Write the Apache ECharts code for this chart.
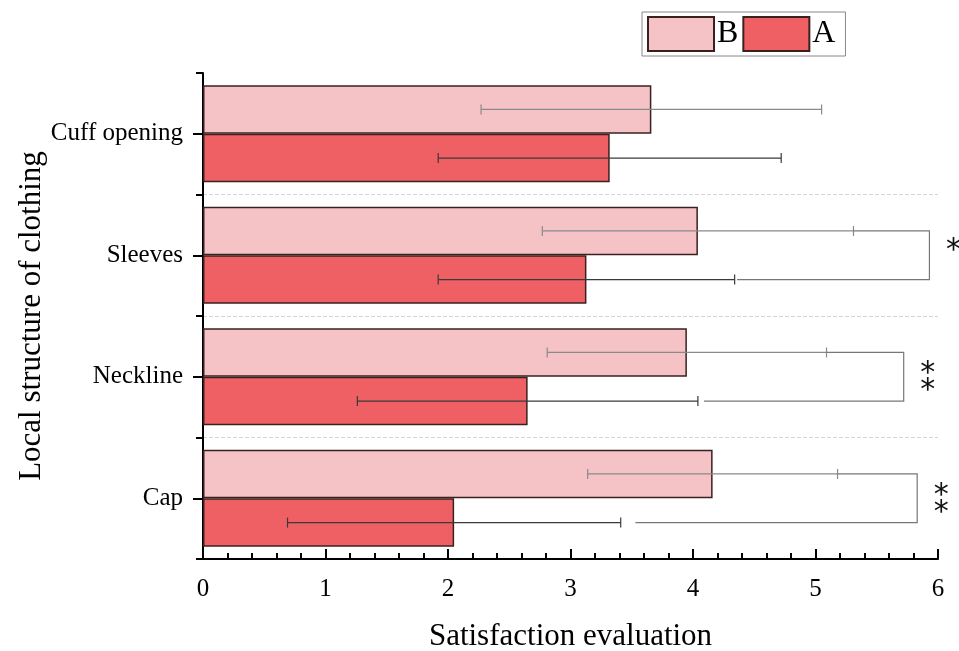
<!DOCTYPE html>
<html>
<head>
<meta charset="utf-8">
<script src="https://cdn.jsdelivr.net/npm/echarts@6/dist/echarts.min.js"></script>
<style>
  html, body { margin: 0; padding: 0; background: #fff; }
  #chart { width: 959px; height: 651px; }
</style>
</head>
<body>
<div id="chart"></div>
<script>
// categories, bottom to top
const categories = ["Cap", "Neckline", "Sleeves", "Cuff opening"];
// mean scores
const valuesA = [2.05, 2.65, 3.13, 3.32];
const valuesB = [4.16, 3.95, 4.04, 3.66];
// error bar half widths
const errA = [1.36, 1.39, 1.21, 1.40];
const errB = [1.02, 1.14, 1.27, 1.39];
// significance brackets
const sigMarks = ["*\n*", "*\n*", "*", ""];
const sigBracketX = [5.83, 5.72, 5.93, null];
const sigLowerStart = [3.53, 4.09, 4.36, null];
const xTicks = [0, 1, 2, 3, 4, 5, 6];

const serif = "Liberation Serif";
const colorA = "#ee6064";
const colorB = "#f5c3c6";

let chart = echarts.init(document.getElementById("chart"));

// error bars: dir -1 = upper bar (B), +1 = lower bar (A)
function errorRender(vals, errs, dir, color) {
  return function (params, api) {
    const i = api.value(0);
    const c = api.coord([vals[i], i]);
    const band = api.size([0, 1])[1];
    const y = c[1] + dir * band * 0.2;
    const lo = api.coord([vals[i] - errs[i], i])[0];
    const hi = api.coord([vals[i] + errs[i], i])[0];
    const style = { stroke: color, lineWidth: 1.2 };
    return {
      type: "group",
      children: [
        { type: "line", shape: { x1: lo, y1: y, x2: hi, y2: y }, style },
        { type: "line", shape: { x1: lo, y1: y - 5, x2: lo, y2: y + 5 }, style },
        { type: "line", shape: { x1: hi, y1: y - 5, x2: hi, y2: y + 5 }, style },
      ],
    };
  };
}

function bracketRender(params, api) {
  const i = api.value(0);
  if (sigBracketX[i] == null) return null;
  const band = api.size([0, 1])[1];
  const yc = api.coord([0, i])[1];
  const yB = yc - band * 0.2;
  const yA = yc + band * 0.2;
  const xStart = api.coord([valuesB[i] + errB[i], i])[0];
  const xBr = api.coord([sigBracketX[i], i])[0];
  const xLow = api.coord([sigLowerStart[i], i])[0];
  const single = sigMarks[i].indexOf("\n") < 0;
  return {
    type: "group",
    children: [
      {
        type: "polyline",
        shape: { points: [[xStart, yB], [xBr, yB], [xBr, yA], [xLow, yA]] },
        style: { stroke: "#777", lineWidth: 1.2, fill: null },
      },
      {
        type: "text",
        style: {
          text: sigMarks[i],
          x: xBr + 24,
          y: single ? yc - 4 : yc + 6,
          fill: "#111",
          font: "30px DejaVu Sans",
          lineHeight: 17,
          align: "center",
          verticalAlign: "middle",
        },
      },
    ],
  };
}

const idx = categories.map((c, i) => [i]);

let option = {
  animation: false,
  backgroundColor: "#fff",
  grid: { left: 203, right: 21, top: 73, bottom: 92, outerBoundsMode: "none", containLabel: false },
  legend: {
    data: ["B", "A"],
    left: 642,
    top: 12,
    orient: "horizontal",
    icon: "rect",
    borderColor: "#888",
    borderWidth: 1,
    padding: [4, 10, 4, 5],
    itemGap: 4,
    itemWidth: 66,
    itemHeight: 34,
    textStyle: { fontFamily: serif, fontSize: 32, color: "#000", padding: [0, 0, 0, -2] },
  },
  xAxis: {
    type: "value",
    min: 0,
    max: 6,
    interval: 1,
    name: "Satisfaction evaluation",
    nameLocation: "middle",
    nameGap: 62,
    nameMoveOverlap: false,
    nameTextStyle: { fontFamily: serif, fontSize: 31, color: "#000" },
    axisLine: { show: true, lineStyle: { color: "#000", width: 2 } },
    axisTick: { show: true, inside: true, length: 10, lineStyle: { color: "#000", width: 2 } },
    minorTick: { show: true, splitNumber: 5, length: 6, lineStyle: { color: "#000", width: 2 } },
    axisLabel: {
      fontFamily: serif,
      fontSize: 25,
      color: "#000",
      margin: 18,
      formatter: (v) => (xTicks.includes(v) ? String(v) : ""),
    },
    splitLine: { show: false },
  },
  yAxis: [
    {
      type: "category",
      data: categories,
      position: "left",
      name: "Local structure of clothing",
      nameLocation: "middle",
      nameGap: 156,
      nameMoveOverlap: false,
      nameTextStyle: { fontFamily: serif, fontSize: 31, color: "#000" },
      axisLine: { show: true, lineStyle: { color: "#000", width: 2 } },
      axisTick: { show: true, alignWithLabel: false, length: 7, lineStyle: { color: "#000", width: 2 } },
      axisLabel: { fontFamily: serif, fontSize: 25, color: "#000", margin: 20 },
      splitLine: {
        show: true,
        showMinLine: false,
        showMaxLine: false,
        lineStyle: { type: "dashed", color: "#d4d4d4", width: 1 },
      },
    },
    {
      type: "category",
      data: categories,
      position: "left",
      axisLine: { show: false },
      axisTick: { show: true, alignWithLabel: true, length: 10, lineStyle: { color: "#000", width: 2 } },
      axisLabel: { show: false },
      splitLine: { show: false },
    },
  ],
  series: [
    {
      name: "B",
      type: "bar",
      data: valuesB,
      barGap: "0%",
      barCategoryGap: "20%",
      itemStyle: { color: colorB, borderColor: "#3b2020", borderWidth: 1.5 },
    },
    {
      name: "A",
      type: "bar",
      data: valuesA,
      barGap: "0%",
      barCategoryGap: "20%",
      itemStyle: { color: colorA, borderColor: "#3b2020", borderWidth: 1.5 },
    },
    {
      type: "custom",
      data: idx,
      z: 5,
      renderItem: errorRender(valuesA, errA, 1, "#3a3a3a"),
    },
    {
      type: "custom",
      data: idx,
      z: 5,
      renderItem: errorRender(valuesB, errB, -1, "#8a8a8a"),
    },
    {
      type: "custom",
      data: idx,
      z: 5,
      renderItem: bracketRender,
    },
  ],
};
chart.setOption(option);
</script>
</body>
</html>
